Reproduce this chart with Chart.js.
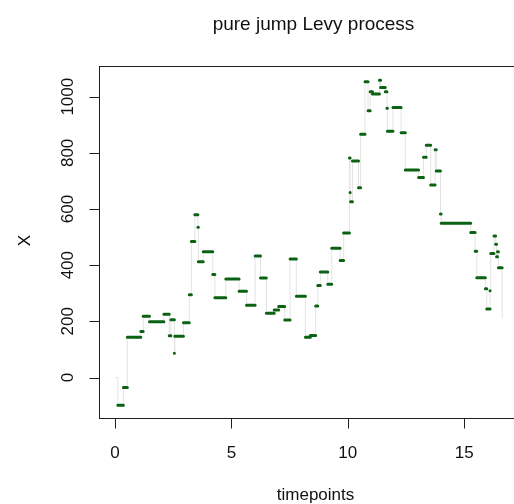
<!DOCTYPE html>
<html>
<head>
<meta charset="utf-8">
<script src="https://cdn.jsdelivr.net/npm/chart.js@4.4.1/dist/chart.umd.min.js"></script>
<style>
  html, body { margin: 0; padding: 0; background: #fff; overflow: hidden; }
  #wrap { position: relative; width: 560px; height: 504px; }
</style>
</head>
<body>
<div id="wrap"><canvas id="levyChart"></canvas></div>
<script>
// jump times and the level the process takes at each jump
const times = [0, 0.12, 0.36, 0.53, 1.11, 1.21, 1.48, 2.10, 2.33, 2.40,
    2.55, 2.57, 2.94, 3.19, 3.28, 3.43, 3.56, 3.58, 3.79, 4.20,
    4.29, 4.76, 5.33, 5.65, 6.02, 6.25, 6.50, 6.84, 7.03, 7.29,
    7.52, 7.79, 8.18, 8.39, 8.62, 8.71, 8.82, 9.14, 9.31, 9.67,
    9.82, 10.07, 10.10, 10.12, 10.20, 10.46, 10.55, 10.74, 10.87, 10.96,
    11.06, 11.36, 11.41, 11.61, 11.68, 11.70, 11.94, 12.29, 12.47, 13.04,
    13.25, 13.37, 13.56, 13.75, 13.80, 13.98, 14.01, 15.28, 15.47, 15.54,
    15.91, 15.97, 16.11, 16.14, 16.28, 16.35, 16.39, 16.43, 16.47, 16.63];
const values = [0, -99, -36, 143, 164, 218, 199, 225, 149, 206,
    86, 147, 195, 295, 484, 580, 535, 412, 448, 367,
    284, 351, 307, 257, 433, 354, 229, 240, 253, 205,
    422, 289, 143, 150, 255, 328, 376, 332, 460, 417,
    515, 782, 659, 626, 771, 676, 866, 1053, 950, 1018,
    1010, 1059, 1033, 1018, 959, 877, 962, 872, 739, 712,
    784, 827, 686, 811, 735, 582, 549, 516, 450, 355,
    316, 244, 309, 442, 504, 475, 430, 448, 391, 209];

const xTicks = [0, 5, 10, 15];
const yTicks = [0, 200, 400, 600, 800, 1000];

const titleText = 'pure jump Levy process';
const xTitle = 'timepoints';
const yTitle = 'X';

const FONT = '"Liberation Sans", Arial, Helvetica, sans-serif';

// gray path through every jump (verticals show up, horizontals get covered)
const pathPoints = times.map((t, i) => ({ x: t, y: values[i] }));

// one green horizontal piece per level, split by null gaps
const levelPoints = [];
for (let i = 1; i < times.length - 1; i++) {
    levelPoints.push({ x: times[i], y: values[i] });
    levelPoints.push({ x: times[i + 1], y: values[i] });
    levelPoints.push({ x: times[i + 1], y: null });
}

// R-style box, ticks and labels
const baseAxes = {
    id: 'baseAxes',
    afterDraw(chart) {
        const { ctx, chartArea: a, scales: { x, y } } = chart;
        ctx.save();
        ctx.strokeStyle = '#1e1e1e';
        ctx.lineWidth = 1;
        ctx.strokeRect(a.left, a.top, a.right - a.left, a.bottom - a.top);

        ctx.beginPath();
        xTicks.forEach(v => {
            const px = Math.round(x.getPixelForValue(v)) + 0.5;
            ctx.moveTo(px, a.bottom);
            ctx.lineTo(px, a.bottom + 10);
        });
        yTicks.forEach(v => {
            const py = Math.round(y.getPixelForValue(v)) + 0.5;
            ctx.moveTo(a.left, py);
            ctx.lineTo(a.left - 10, py);
        });
        ctx.stroke();

        ctx.fillStyle = '#111';
        ctx.font = '17px ' + FONT;
        ctx.textAlign = 'center';
        ctx.textBaseline = 'alphabetic';
        xTicks.forEach(v => {
            ctx.fillText(String(v), x.getPixelForValue(v), 457.5);
        });
        yTicks.forEach(v => {
            ctx.save();
            ctx.translate(73, y.getPixelForValue(v));
            ctx.rotate(-Math.PI / 2);
            ctx.fillText(String(v), 0, 0);
            ctx.restore();
        });

        const midX = (a.left + a.right) / 2;
        const midY = (a.top + a.bottom) / 2;
        ctx.fillText(xTitle, midX, 500);
        ctx.save();
        ctx.translate(30, midY - 2);
        ctx.rotate(-Math.PI / 2);
        ctx.fillText(yTitle, 0, 0);
        ctx.restore();

        ctx.font = '19px ' + FONT;
        ctx.fillText(titleText, midX - 2, 30);
        ctx.restore();
    }
};

const ctx = document.getElementById('levyChart').getContext('2d');
new Chart(ctx, {
    type: 'line',
    data: {
        datasets: [
            {
                data: levelPoints,
                borderColor: '#0a6212',
                borderWidth: 3,
                borderCapStyle: 'round',
                pointRadius: 0,
                spanGaps: false,
                fill: false
            },
            {
                data: pathPoints,
                stepped: 'before',
                borderColor: '#e4e4e4',
                borderWidth: 1,
                pointRadius: 0,
                fill: false
            }
        ]
    },
    options: {
        responsive: true,
        maintainAspectRatio: false,
        animation: false,
        layout: { padding: { left: 99.5, right: 28.5, top: 66.5, bottom: 85.5 } },
        scales: {
            x: { type: 'linear', display: false, min: -0.666, max: 17.891 },
            y: { type: 'linear', display: false, min: -146, max: 1107.6 }
        },
        plugins: {
            legend: { display: false },
            tooltip: { enabled: false }
        }
    },
    plugins: [baseAxes]
});
</script>
</body>
</html>
